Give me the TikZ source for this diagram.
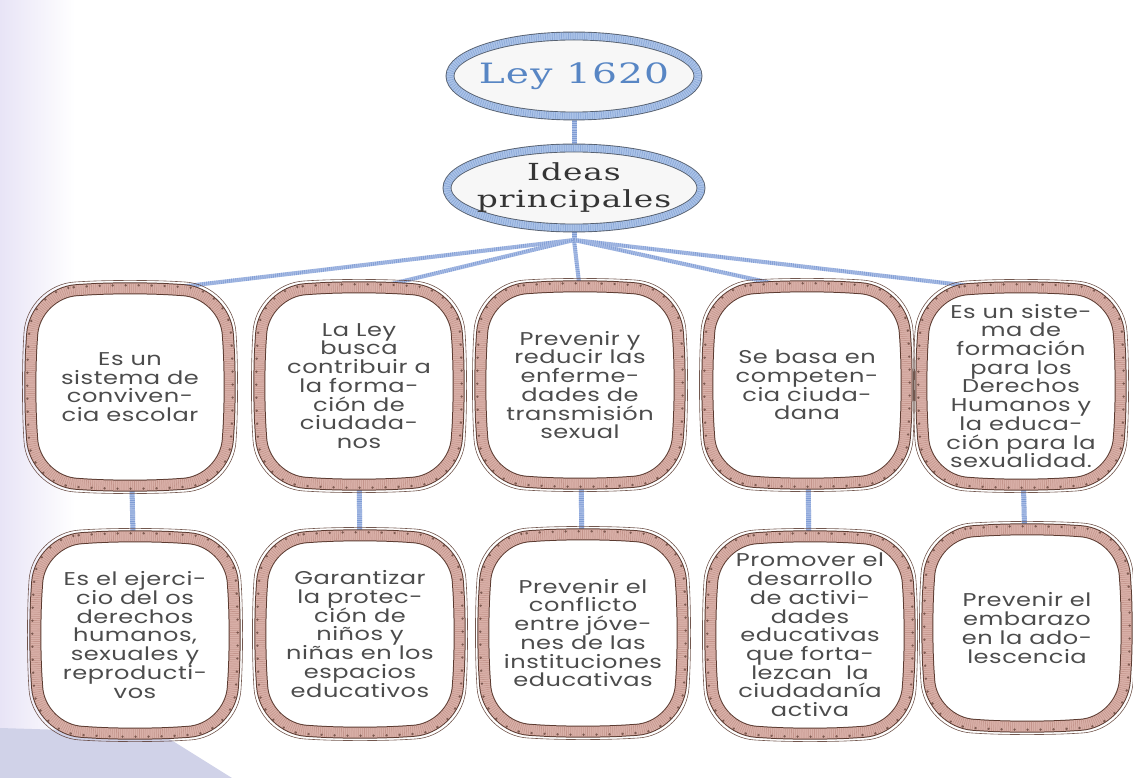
\documentclass[tikz,border=0pt]{standalone}
\usepackage{fontspec}
\setmainfont{Poppins}
\newfontfamily\boxfont[FakeStretch=1.3,LetterSpace=3]{Poppins}
\newfontfamily\titlefont[FakeStretch=1.4,LetterSpace=4]{DejaVu Serif}
\usetikzlibrary{calc}
\pgfdeclarelayer{background}
\pgfdeclarelayer{mid}
\pgfsetlayers{background,mid,main}
\definecolor{txt}{RGB}{76,76,76}
\definecolor{bandpink}{RGB}{218,178,170}
\definecolor{bandhatch}{RGB}{178,125,115}
\definecolor{bandline}{RGB}{90,58,48}
\definecolor{blueband}{RGB}{172,196,232}
\definecolor{bluehatch}{RGB}{115,148,205}
\definecolor{ellline}{RGB}{85,95,110}
\definecolor{leyblue}{RGB}{88,134,196}
\definecolor{connblue}{RGB}{170,190,230}
\definecolor{connhatch}{RGB}{110,142,204}
\definecolor{lav}{RGB}{232,228,246}
\definecolor{wedge}{RGB}{208,210,232}
\newcommand\cardpath[2]{($(#1.north west)+(-#2,-#2)$) -- ($(#1.north)+(0,-6-#2)$) -- ($(#1.north east)+(#2,-#2)$) -- ($(#1.east)+(6+#2,0)$) -- ($(#1.south east)+(#2,#2)$) -- ($(#1.south)+(0,6+#2)$) -- ($(#1.south west)+(-#2,#2)$) -- ($(#1.west)+(-6-#2,0)$) -- cycle}
\begin{document}
\lineskiplimit=-30pt\relax
\begin{tikzpicture}[x=1pt,y=-1pt,
  card/.style={rectangle, minimum width=190pt, minimum height=188pt, align=center,
    inner sep=0pt, text=txt, font=\boxfont\fontsize{18.5}{18.7}\selectfont},
  headtext/.style={rectangle, align=center, inner sep=0pt},
  link/.style={line width=5pt, draw=connblue,
    postaction={draw=connhatch, line width=5pt, dash pattern=on 0.7pt off 1.4pt, opacity=0.7}},
  fan/.style={line width=4pt, draw=connblue,
    postaction={draw=connhatch, line width=4pt, dash pattern=on 0.7pt off 1.4pt, opacity=0.65}},
  band/.style={draw=bandline, line width=1pt, double=bandpink, double distance=10pt, fill=white, rounded corners=42pt},
  bandhatchst/.style={draw=bandhatch, line width=10pt, dash pattern=on 0.6pt off 1.5pt, opacity=0.55, rounded corners=42pt},
  banddots/.style={draw=bandline, line width=2.6pt, dash pattern=on 0pt off 13pt, line cap=round, opacity=0.7, rounded corners=42pt},
  sketch/.style={draw=bandline, line width=0.6pt, rounded corners=48pt, opacity=0.85},
  ellband/.style={draw=ellline, line width=0.9pt, double=blueband, double distance=7pt, fill=gray!6},
  ellhatch/.style={draw=bluehatch, line width=7pt, dash pattern=on 0.7pt off 1.6pt, opacity=0.55}
]
\useasboundingbox (0,0) rectangle (1133,778);
\begin{pgfonlayer}{background}
  \fill[white] (0,0) rectangle (1133,778);
  \shade[left color=lav, right color=white] (0,0) rectangle (75,778);
  \fill[wedge] (0,728) -- (160,733) -- (232,778) -- (0,778) -- cycle;
\end{pgfonlayer}

% headings
\node[headtext, text=leyblue, font=\titlefont\fontsize{28}{30}\selectfont] (ley) at (574,76) {Ley 1620};
\node[headtext, text=txt!70!black, font=\titlefont\fontsize{23.5}{27}\selectfont] (ideas) at (574,188) {Ideas\\principales};
\coordinate (hub) at (574,240);

% top row
\node[card] (t1) at (130,387) {Es un\\sistema de\\conviven-\\cia escolar};
\node[card] (t2) at (359,386) {La Ley\\busca\\contribuir a\\la forma-\\ción de\\ciudada-\\nos};
\node[card] (t3) at (580,385) {Prevenir y\\reducir las\\enferme-\\dades de\\transmisión\\sexual};
\node[card] (t4) at (807,385) {Se basa en\\competen-\\cia ciuda-\\dana};
\node[card] (t5) at (1021,386) {Es un siste-\\ma de\\formación\\para los\\Derechos\\Humanos y\\la educa-\\ción para la\\sexualidad.};
% bottom row
\node[card] (b1) at (135,635) {Es el ejerci-\\cio del os\\derechos\\humanos,\\sexuales y\\reproducti-\\vos};
\node[card] (b2) at (360,634) {Garantizar\\la protec-\\ción de\\niños y\\niñas en los\\espacios\\educativos};
\node[card] (b3) at (583,633) {Prevenir el\\conflicto\\entre jóve-\\nes de las\\instituciones\\educativas};
\node[card] (b4) at (810,635) {Promover el\\desarrollo\\de activi-\\dades\\educativas\\que forta-\\lezcan\ \ la\\ciudadanía\\activa};
\node[card] (b5) at (1027,628) {Prevenir el\\embarazo\\en la ado-\\lescencia};

% shapes drawn behind the texts
\begin{pgfonlayer}{mid}
  \draw[ellband] (ley.center) ellipse [x radius=124pt, y radius=40pt];
  \draw[ellhatch] (ley.center) ellipse [x radius=124pt, y radius=40pt];
  \draw[ellband] (ideas.center) ellipse [x radius=127pt, y radius=40pt];
  \draw[ellhatch] (ideas.center) ellipse [x radius=127pt, y radius=40pt];
  \foreach \n in {t1,t2,t3,t4,t5,b1,b2,b3,b4,b5} {
    \draw[sketch] \cardpath{\n}{8};
    \draw[band] \cardpath{\n}{0};
    \draw[bandhatchst] \cardpath{\n}{0};
    \draw[banddots] \cardpath{\n}{3};
  }
\end{pgfonlayer}

% connectors
\begin{pgfonlayer}{background}
  \draw[link] (ley) -- (ideas);
  \draw[link] (ideas) -- (hub);
  \foreach \n in {t1,t2,t3,t4,t5} \draw[fan] (hub) -- (\n.north);
  \foreach \a/\b in {t1/b1,t2/b2,t3/b3,t4/b4,t5/b5} \draw[link] (\a) -- (\b);
\end{pgfonlayer}
\end{tikzpicture}
\end{document}
